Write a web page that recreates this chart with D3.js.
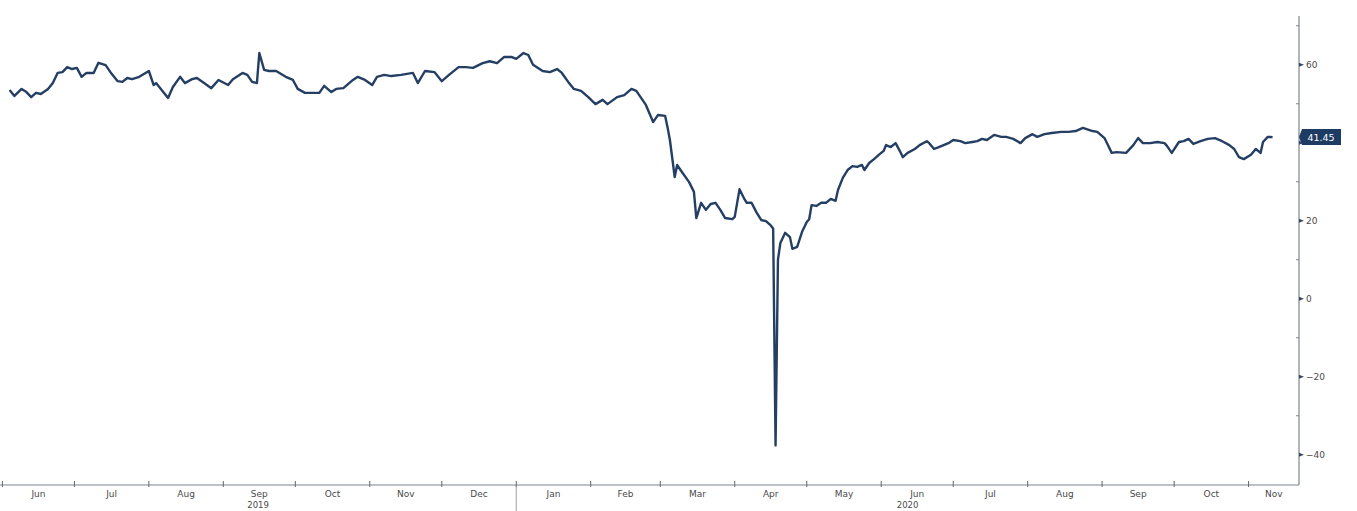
<!DOCTYPE html>
<html><head><meta charset="utf-8">
<script src="https://cdn.jsdelivr.net/npm/d3@7/dist/d3.min.js"></script>
<style>
html,body{margin:0;padding:0;background:#fff;}
svg{display:block;}
text{font-family:"DejaVu Sans",Verdana,sans-serif;}
</style></head>
<body>
<svg id="chart" width="1357" height="511"></svg>
<script>
const dates = [
"2019-06-04","2019-06-06","2019-06-09","2019-06-11","2019-06-13","2019-06-15","2019-06-17","2019-06-20","2019-06-22","2019-06-24",
"2019-06-26","2019-06-28","2019-06-30","2019-07-02","2019-07-04","2019-07-06","2019-07-09","2019-07-11","2019-07-14","2019-07-16",
"2019-07-19","2019-07-21","2019-07-23","2019-07-25","2019-07-28","2019-08-01","2019-08-03","2019-08-04","2019-08-06","2019-08-09",
"2019-08-11","2019-08-14","2019-08-16","2019-08-19","2019-08-21","2019-08-24","2019-08-27","2019-08-30","2019-09-03","2019-09-05",
"2019-09-09","2019-09-11","2019-09-13","2019-09-15","2019-09-16","2019-09-18","2019-09-20","2019-09-23","2019-09-27","2019-09-30",
"2019-10-02","2019-10-05","2019-10-09","2019-10-11","2019-10-13","2019-10-16","2019-10-18","2019-10-21","2019-10-25","2019-10-27",
"2019-10-30","2019-11-02","2019-11-04","2019-11-07","2019-11-10","2019-11-14","2019-11-19","2019-11-21","2019-11-24","2019-11-28",
"2019-12-01","2019-12-04","2019-12-08","2019-12-11","2019-12-14","2019-12-18","2019-12-21","2019-12-24","2019-12-27","2019-12-30",
"2020-01-01","2020-01-04","2020-01-06","2020-01-08","2020-01-12","2020-01-15","2020-01-18","2020-01-20","2020-01-23","2020-01-25",
"2020-01-28","2020-01-31","2020-02-03","2020-02-06","2020-02-08","2020-02-12","2020-02-15","2020-02-18","2020-02-20","2020-02-24",
"2020-02-27","2020-02-29","2020-03-03","2020-03-04","2020-03-05","2020-03-07","2020-03-08","2020-03-10","2020-03-13","2020-03-15",
"2020-03-16","2020-03-18","2020-03-20","2020-03-22","2020-03-24","2020-03-26","2020-03-28","2020-03-31","2020-04-01","2020-04-03",
"2020-04-05","2020-04-06","2020-04-08","2020-04-10","2020-04-12","2020-04-14","2020-04-16","2020-04-17","2020-04-18","2020-04-19",
"2020-04-20","2020-04-22","2020-04-24","2020-04-25","2020-04-27","2020-04-29","2020-05-01","2020-05-02","2020-05-03","2020-05-05",
"2020-05-07","2020-05-09","2020-05-11","2020-05-13","2020-05-14","2020-05-16","2020-05-18","2020-05-20","2020-05-22","2020-05-24",
"2020-05-25","2020-05-27","2020-05-29","2020-05-31","2020-06-02","2020-06-03","2020-06-05","2020-06-07","2020-06-09","2020-06-10",
"2020-06-12","2020-06-15","2020-06-17","2020-06-20","2020-06-21","2020-06-23","2020-06-25","2020-06-27","2020-06-29","2020-07-01",
"2020-07-04","2020-07-06","2020-07-09","2020-07-11","2020-07-13","2020-07-15","2020-07-18","2020-07-21","2020-07-23","2020-07-26",
"2020-07-29","2020-07-31","2020-08-03","2020-08-05","2020-08-08","2020-08-11","2020-08-15","2020-08-18","2020-08-21","2020-08-24",
"2020-08-28","2020-08-30","2020-09-02","2020-09-05","2020-09-07","2020-09-11","2020-09-14","2020-09-16","2020-09-18","2020-09-21",
"2020-09-24","2020-09-27","2020-09-28","2020-09-30","2020-10-03","2020-10-05","2020-10-07","2020-10-09","2020-10-12","2020-10-15",
"2020-10-18","2020-10-21","2020-10-24","2020-10-26","2020-10-28","2020-10-30","2020-11-02","2020-11-04","2020-11-06","2020-11-07",
"2020-11-09","2020-11-11"
];
const values = [
53.5,52.0,53.8,53.0,51.7,52.8,52.5,53.8,55.3,57.9,
58.1,59.4,58.9,59.2,56.9,57.9,57.9,60.5,59.9,58.1,
55.8,55.6,56.6,56.3,56.9,58.4,54.8,55.3,53.8,51.5,
54.3,56.9,55.3,56.3,56.6,55.3,54.0,56.1,54.8,56.3,
57.9,57.4,55.6,55.3,63.0,58.7,58.4,58.4,56.9,56.1,
53.8,52.8,52.8,52.8,54.6,53.0,53.8,54.0,56.1,56.9,
56.1,54.8,56.9,57.4,57.1,57.4,57.9,55.3,58.4,58.1,
55.8,57.4,59.4,59.4,59.2,60.4,60.9,60.4,62.0,62.0,
61.5,63.0,62.5,60.0,58.4,58.1,58.9,57.9,55.3,53.8,
53.3,51.7,49.9,51.0,49.9,51.7,52.2,53.8,53.3,49.7,
45.3,47.1,46.9,44.0,40.7,31.2,34.3,32.5,29.9,27.4,
20.7,24.6,22.8,24.3,24.6,22.8,20.7,20.4,21.0,28.1,
25.6,24.6,24.6,22.2,20.2,19.9,18.8,18.0,-37.6,10.0,
14.3,16.9,15.8,12.8,13.3,17.1,19.7,20.4,24.0,23.8,
24.6,24.6,25.6,25.1,27.9,31.0,33.0,34.0,33.8,34.3,
33.0,34.8,35.8,36.9,37.9,39.4,38.9,39.9,37.6,36.3,
37.4,38.4,39.4,40.4,39.9,38.4,38.9,39.4,39.9,40.7,
40.4,39.9,40.2,40.4,41.0,40.7,42.0,41.5,41.5,41.0,
39.9,41.2,42.2,41.5,42.2,42.5,42.8,42.8,43.0,43.8,
43.0,42.8,41.2,37.4,37.6,37.4,39.4,41.2,39.9,39.9,
40.2,39.9,39.2,37.4,40.2,40.4,41.0,39.7,40.4,41.0,
41.2,40.4,39.4,38.4,36.3,35.8,36.9,38.4,37.4,40.2,
41.5,41.45
];
const monthLabels = ["Jun","Jul","Aug","Sep","Oct","Nov","Dec","Jan","Feb","Mar","Apr","May","Jun","Jul","Aug","Sep","Oct","Nov"];
const yearLabels = ["2019","2020"];
const yMajorTicks = [60,40,20,0,-20,-40];
const yTickLabels = [60,20,0,-20,-40];
const yMinorTicks = [70,50,30,10,-10,-30];
const lastLabel = "41.45";

const parse = d3.timeParse("%Y-%m-%d");
const data = dates.map((d,i)=>({date:parse(d), value:values[i]}));

const svg = d3.select("#chart");
const x = d3.scaleTime()
  .domain([new Date(2019,4,31), new Date(2020,10,22)])
  .range([0,1299]);
const y = d3.scaleLinear().domain([-47.5,72.5]).range([484,16]);

const axisColor = "#7d8590";
const textColor = "#4a4a4a";
const xr = x.range()[1];

// bottom axis line
const by = y(-47.5)+1;
svg.append("line").attr("x1",0).attr("x2",xr).attr("y1",by).attr("y2",by)
  .attr("stroke",axisColor).attr("stroke-width",1.2);
// right axis line
svg.append("line").attr("x1",xr).attr("x2",xr).attr("y1",y(72.5)).attr("y2",by)
  .attr("stroke",axisColor).attr("stroke-width",1.2);

// month ticks & labels
const [d0,d1] = x.domain();
const months = d3.timeMonth.range(d3.timeMonth.ceil(d0), d1);
svg.selectAll(".mtick").data(months).enter().append("line")
  .attr("x1",d=>x(d)).attr("x2",d=>x(d)).attr("y1",by-4).attr("y2",by+2)
  .attr("stroke","#666").attr("stroke-width",1);
svg.selectAll(".mlab").data(months).enter().append("text")
  .attr("x",d=>{const a=Math.max(x(d),0), b=Math.min(x(d3.timeMonth.offset(d,1)),xr); return (a+b)/2;})
  .attr("y",by+12).attr("text-anchor","middle").attr("font-size",9).attr("fill",textColor)
  .text((d,i)=>monthLabels[i]);
// year separator and labels
const yearStart = new Date(2020,0,1);
svg.append("line").attr("x1",x(yearStart)).attr("x2",x(yearStart)).attr("y1",by).attr("y2",511)
  .attr("stroke","#888").attr("stroke-width",0.8);
const yearRanges = [[0,x(yearStart)],[x(yearStart),xr]];
svg.selectAll(".ylab").data(yearLabels).enter().append("text")
  .attr("x",(d,i)=>(yearRanges[i][0]+yearRanges[i][1])/2).attr("y",by+23)
  .attr("text-anchor","middle").attr("font-size",8.5).attr("fill",textColor).text(d=>d);

// y ticks
svg.selectAll(".ymin").data(yMinorTicks).enter().append("line")
  .attr("x1",xr-3).attr("x2",xr).attr("y1",d=>y(d)).attr("y2",d=>y(d))
  .attr("stroke",axisColor).attr("stroke-width",1);
svg.selectAll(".ymaj").data(yMajorTicks).enter().append("path")
  .attr("d",d=>`M${xr},${y(d)-2}L${xr+5},${y(d)}L${xr},${y(d)+2}Z`)
  .attr("fill","#3a4a5e");
svg.selectAll(".ylabt").data(yTickLabels).enter().append("text")
  .attr("x",xr+7).attr("y",d=>y(d)+3.5).attr("font-size",9).attr("fill",textColor)
  .text(d=>d<0? "\u2212"+Math.abs(d) : d);

// line
const line = d3.line().x(d=>x(d.date)).y(d=>y(d.value));
svg.append("path").datum(data).attr("d",line).attr("fill","none")
  .attr("stroke","#243f63").attr("stroke-width",2.4).attr("stroke-linejoin","round");

// last value box
const last = data[data.length-1];
const ly = y(last.value);
svg.append("path").attr("d",`M${xr},${ly}L${xr+3},${ly-8}L${xr+42},${ly-8}L${xr+42},${ly+8}L${xr+3},${ly+8}Z`)
  .attr("fill","#1d3b63");
svg.append("text").attr("x",xr+22).attr("y",ly+3.5).attr("text-anchor","middle")
  .attr("font-size",9.5).attr("fill","#fff").text(lastLabel);
</script>
</body></html>
